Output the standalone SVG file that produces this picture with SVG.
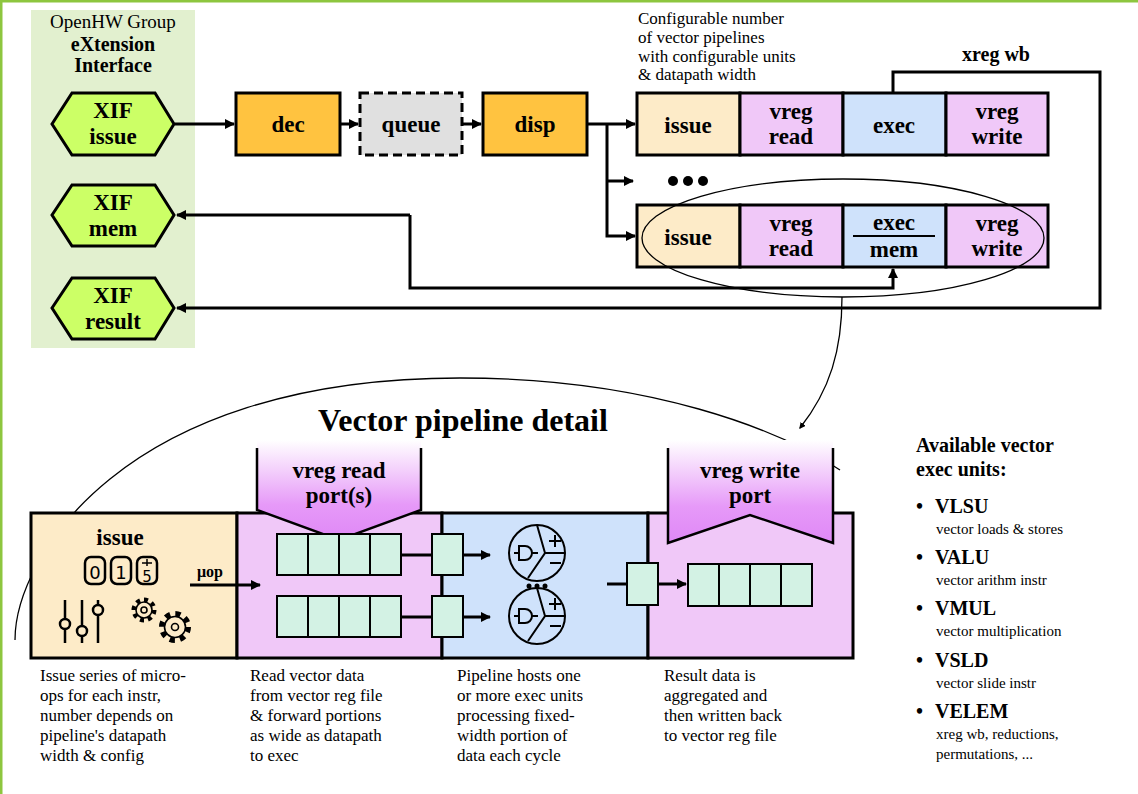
<svg xmlns="http://www.w3.org/2000/svg" width="1138" height="794" viewBox="0 0 1138 794" font-family="Liberation Serif">
<style>
text{fill:#000}
.b{font-weight:bold}
.t22{font-size:23px;font-weight:bold;text-anchor:middle}
.d{font-size:17px}
.hex{fill:#ccff66;stroke:#000;stroke-width:3}
.box{stroke:#000;stroke-width:3}
.ln{fill:none;stroke:#000;stroke-width:3}
.thin{fill:none;stroke:#000;stroke-width:1.3}
.reg{fill:#d3f2e4;stroke:#000;stroke-width:2}
.ico{fill:none;stroke:#000;stroke-width:2.5}
</style>
<defs>
<marker id="ah" markerWidth="5" markerHeight="5" refX="4" refY="2.5" orient="auto" markerUnits="strokeWidth"><path d="M0,0L5,2.5L0,5z"/></marker>
<marker id="ah2" markerWidth="10" markerHeight="10" refX="9" refY="5" orient="auto" markerUnits="userSpaceOnUse"><path d="M0,0L10,5L0,10z"/></marker>
<linearGradient id="pg" x1="0" y1="0" x2="0" y2="1"><stop offset="0" stop-color="#fff"/><stop offset="0.65" stop-color="#e699f8"/><stop offset="1" stop-color="#df88f6"/></linearGradient>
</defs>
<rect width="1138" height="794" fill="#fff"/>
<path d="M1,794V1H1138" fill="none" stroke="#8dc63f" stroke-width="3"/>
<g id="xif-panel">
<rect x="31" y="10" width="164" height="338" fill="#e2f0cf"/>
<text x="113" y="28" font-size="19" text-anchor="middle">OpenHW Group</text>
<text x="113" y="51" font-size="20" class="b" text-anchor="middle">eXtension</text>
<text x="113" y="72" font-size="20" class="b" text-anchor="middle">Interface</text>
</g>
<g id="xif-issue"><path class="hex" d="M52,124L72,93H155L174,124L155,155H72Z"/><text class="t22" x="113" y="118">XIF</text><text class="t22" x="113" y="144">issue</text></g>
<g id="xif-mem"><path class="hex" d="M52,215L72,185H155L174,215L155,246H72Z"/><text class="t22" x="113" y="210">XIF</text><text class="t22" x="113" y="236">mem</text></g>
<g id="xif-result"><path class="hex" d="M52,308L72,278H155L174,308L155,339H72Z"/><text class="t22" x="113" y="303">XIF</text><text class="t22" x="113" y="329">result</text></g>
<g id="dec"><rect class="box" x="236" y="93" width="104" height="62" fill="#ffc340"/><text class="t22" x="288" y="132">dec</text></g>
<g id="queue"><rect class="box" x="360" y="93" width="102" height="62" fill="#e0e0e0" stroke-dasharray="9,5"/><text class="t22" x="411" y="132">queue</text></g>
<g id="disp"><rect class="box" x="483" y="93" width="104" height="62" fill="#ffc340"/><text class="t22" x="535" y="132">disp</text></g>
<g id="pipe1">
<rect class="box" x="637" y="93" width="103" height="62" fill="#fdebc8"/>
<rect class="box" x="740" y="93" width="103" height="62" fill="#f0c8f8"/>
<rect class="box" x="843" y="93" width="103" height="62" fill="#cfe2fb"/>
<rect class="box" x="946" y="93" width="102" height="62" fill="#f0c8f8"/>
<text class="t22" x="688" y="133">issue</text>
<text class="t22" x="791" y="119">vreg</text><text class="t22" x="791" y="144">read</text>
<text class="t22" x="894" y="133">exec</text>
<text class="t22" x="997" y="119">vreg</text><text class="t22" x="997" y="144">write</text>
</g>
<g id="pipe2">
<rect class="box" x="637" y="205" width="103" height="62" fill="#fdebc8"/>
<rect class="box" x="740" y="205" width="103" height="62" fill="#f0c8f8"/>
<rect class="box" x="843" y="205" width="103" height="62" fill="#cfe2fb"/>
<rect class="box" x="946" y="205" width="102" height="62" fill="#f0c8f8"/>
<text class="t22" x="688" y="245">issue</text>
<text class="t22" x="791" y="231">vreg</text><text class="t22" x="791" y="256">read</text>
<text class="t22" x="894" y="230">exec</text>
<line x1="853" y1="236" x2="935" y2="236" stroke="#000" stroke-width="2"/>
<text class="t22" x="894" y="257">mem</text>
<text class="t22" x="997" y="231">vreg</text><text class="t22" x="997" y="256">write</text>
</g>
<g id="dots"><circle cx="673" cy="181" r="5"/><circle cx="688" cy="181" r="5"/><circle cx="703" cy="181" r="5"/></g>
<text x="638" y="24" class="d">Configurable  number</text>
<text x="638" y="43" class="d">of  vector  pipelines</text>
<text x="638" y="62" class="d">with  configurable  units</text>
<text x="638" y="80" class="d">&amp;  datapath  width</text>
<text x="996" y="61" font-size="20" class="b" text-anchor="middle">xreg wb</text>
<g id="connectors">
<line class="ln" x1="175" y1="124" x2="234" y2="124" marker-end="url(#ah2)"/>
<line class="ln" x1="340" y1="124" x2="358" y2="124" marker-end="url(#ah2)"/>
<line class="ln" x1="462" y1="124" x2="481" y2="124" marker-end="url(#ah2)"/>
<line class="ln" x1="587" y1="124" x2="635" y2="124" marker-end="url(#ah2)"/>
<path class="ln" d="M607,124V236H635" marker-end="url(#ah2)"/>
<line class="ln" x1="607" y1="181" x2="633" y2="181" marker-end="url(#ah2)"/>
<path class="ln" d="M893,93V72H1100V308H177" marker-end="url(#ah2)"/>
<path class="ln" d="M410,215H177" marker-end="url(#ah2)"/>
<path class="ln" d="M410,215V288H893V269" marker-end="url(#ah2)"/>
<ellipse class="thin" cx="843" cy="238" rx="201" ry="59"/>
<path class="thin" d="M842,297C842,350 830,390 800,428" marker-end="url(#ah)"/>
<path class="thin" d="M15,640C15,560 120,378 460,378C650,378 780,430 840,470"/>
</g>
<text x="463" y="431" font-size="32" class="b" text-anchor="middle">Vector pipeline detail</text>
<g id="detail-issue">
<rect class="box" x="31" y="513" width="206" height="145" fill="#fdebc8"/>
<text class="t22" x="120" y="545" font-size="24">issue</text>
<rect class="ico" x="85" y="557" width="20" height="27" rx="6"/><text x="95" y="579" font-size="18" font-family="DejaVu Sans" text-anchor="middle">0</text>
<rect class="ico" x="111" y="557" width="20" height="27" rx="6"/><text x="121" y="579" font-size="18" font-family="DejaVu Sans" text-anchor="middle">1</text>
<rect class="ico" x="137" y="557" width="20" height="27" rx="6"/><text x="147" y="582" font-size="15" font-family="DejaVu Sans" text-anchor="middle">5</text><path d="M142,563H152M147,559V566" stroke="#000" stroke-width="1.5"/>
<path class="ico" d="M65,600V643M82,600V643M98,600V643"/>
<circle cx="65" cy="624" r="5" fill="#fdebc8" stroke="#000" stroke-width="2.5"/>
<circle cx="82" cy="631" r="5" fill="#fdebc8" stroke="#000" stroke-width="2.5"/>
<circle cx="98" cy="610" r="5" fill="#fdebc8" stroke="#000" stroke-width="2.5"/>
<g fill="none" stroke="#000">
<circle cx="144" cy="610" r="10" stroke-width="5" stroke-dasharray="3.9,3.9"/><circle cx="144" cy="610" r="8" stroke-width="1.6" fill="#fdebc8"/><circle cx="144" cy="610" r="3" stroke-width="1.6"/>
<circle cx="175" cy="627" r="13" stroke-width="6" stroke-dasharray="5.1,5.1"/><circle cx="175" cy="627" r="10.5" stroke-width="1.6" fill="#fdebc8"/><circle cx="175" cy="627" r="3.5" stroke-width="1.6"/>
</g>
</g>
<g id="detail-read">
<rect class="box" x="237" y="513" width="205" height="145" fill="#f0c8f8"/>
<path d="M257,440H421V510L339,540L257,510Z" fill="url(#pg)"/>
<path d="M257,448V510L339,540L421,510V448" fill="none" stroke="#000" stroke-width="2.5"/>
<text class="t22" x="339" y="478">vreg read</text><text class="t22" x="339" y="503">port(s)</text>
<g class="reg"><rect x="277" y="534" width="31" height="41"/><rect x="308" y="534" width="31" height="41"/><rect x="339" y="534" width="31" height="41"/><rect x="370" y="534" width="31" height="41"/>
<rect x="277" y="596" width="31" height="41"/><rect x="308" y="596" width="31" height="41"/><rect x="339" y="596" width="31" height="41"/><rect x="370" y="596" width="31" height="41"/></g>
</g>
<text x="210" y="577" font-size="16" class="b" text-anchor="middle">μop</text>
<line class="ln" x1="190" y1="585" x2="260" y2="585" marker-end="url(#ah2)"/>
<g id="detail-exec">
<rect class="box" x="442" y="513" width="206" height="145" fill="#cfe2fb"/>
<path class="ln" d="M401,555H432M401,617H432"/>
<rect class="reg" x="432" y="534" width="31" height="41"/><rect class="reg" x="432" y="596" width="31" height="41"/>
<line class="ln" x1="463" y1="555" x2="490" y2="555" marker-end="url(#ah2)"/>
<line class="ln" x1="463" y1="617" x2="490" y2="617" marker-end="url(#ah2)"/>
<g fill="none" stroke="#000" stroke-width="2">
<circle cx="537" cy="553" r="28"/><path d="M537,525L545,553L528,578M545,553H565"/>
<circle cx="537" cy="616" r="28"/><path d="M537,588L545,616L528,641M545,616H565"/>
<path d="M519,546h6a7,7 0 0 1 0,14h-6zM514,553h5M532,553h6M519,609h6a7,7 0 0 1 0,14h-6zM514,616h5M532,616h6"/>
<path d="M549,541h12M555,535v12M550,563h11M549,604h12M555,598v12M550,626h11"/>
</g>
<circle cx="529" cy="586" r="2.5"/><circle cx="537" cy="586" r="2.5"/><circle cx="545" cy="586" r="2.5"/>
</g>
<g id="detail-write">
<rect class="box" x="648" y="513" width="205" height="145" fill="#f0c8f8"/>
<path d="M668,440H833V543L750,515L668,543Z" fill="url(#pg)"/>
<path d="M668,448V543L750,515L833,543V448" fill="none" stroke="#000" stroke-width="2.5"/>
<text class="t22" x="750" y="478">vreg write</text><text class="t22" x="750" y="503">port</text>
<line class="ln" x1="607" y1="584" x2="627" y2="584"/>
<rect class="reg" x="627" y="563" width="31" height="42"/>
<line class="ln" x1="658" y1="584" x2="686" y2="584" marker-end="url(#ah2)"/>
<g class="reg"><rect x="688" y="564" width="31" height="42"/><rect x="719" y="564" width="31" height="42"/><rect x="750" y="564" width="31" height="42"/><rect x="781" y="564" width="31" height="42"/></g>
</g>
<g class="d">
<text x="40" y="681">Issue series of micro-</text><text x="40" y="701">ops for each instr,</text><text x="40" y="721">number depends on</text><text x="40" y="741">pipeline's datapath</text><text x="40" y="761">width &amp; config</text>
<text x="250" y="681">Read vector data</text><text x="250" y="701">from vector reg file</text><text x="250" y="721">&amp; forward portions</text><text x="250" y="741">as wide as datapath</text><text x="250" y="761">to exec</text>
<text x="457" y="681">Pipeline hosts one</text><text x="457" y="701">or more exec units</text><text x="457" y="721">processing fixed-</text><text x="457" y="741">width portion of</text><text x="457" y="761">data each cycle</text>
<text x="664" y="681">Result data is</text><text x="664" y="701">aggregated and</text><text x="664" y="721">then written back</text><text x="664" y="741">to vector reg file</text>
</g>
<g id="units">
<text x="916" y="452" font-size="20" class="b">Available vector</text>
<text x="916" y="476" font-size="20" class="b">exec units:</text>
<g font-size="20" class="b"><text x="916" y="513">•</text><text x="935" y="513">VLSU</text><text x="916" y="564">•</text><text x="935" y="564">VALU</text><text x="916" y="615">•</text><text x="935" y="615">VMUL</text><text x="916" y="667">•</text><text x="935" y="667">VSLD</text><text x="916" y="718">•</text><text x="935" y="718">VELEM</text></g>
<g font-size="15"><text x="936" y="534">vector loads &amp; stores</text><text x="936" y="585">vector arithm instr</text><text x="936" y="636">vector multiplication</text><text x="936" y="688">vector slide instr</text><text x="936" y="739">xreg wb, reductions,</text><text x="936" y="759">permutations, ...</text></g>
</g>
</svg>
